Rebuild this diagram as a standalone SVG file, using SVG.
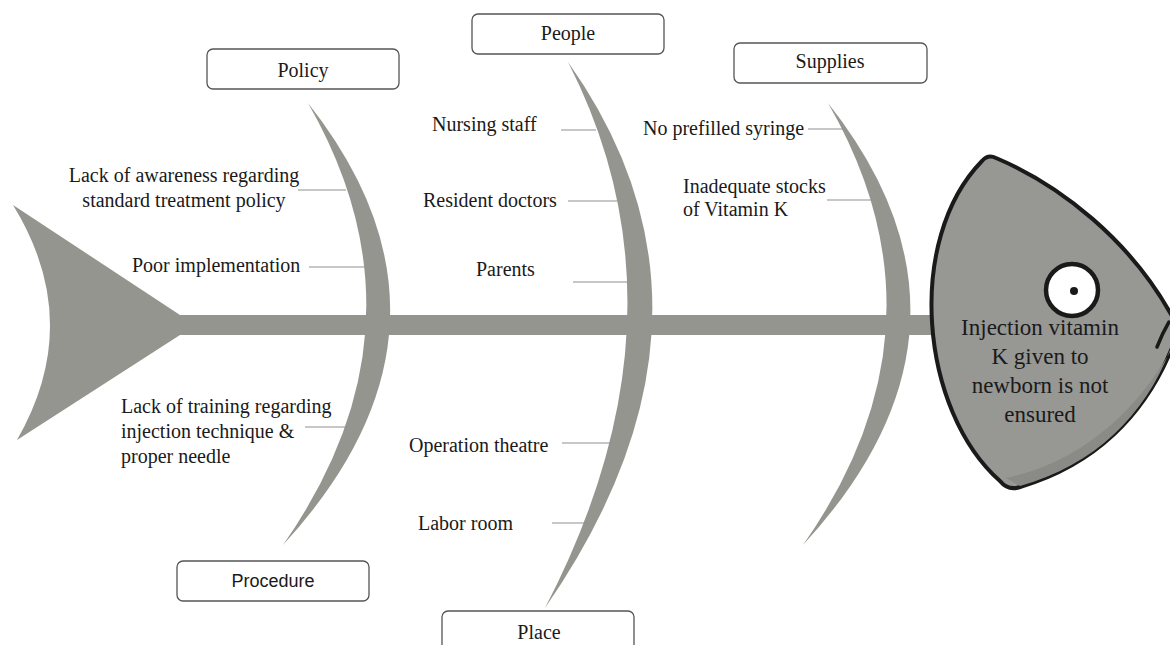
<svg xmlns="http://www.w3.org/2000/svg" width="1170" height="645" viewBox="0 0 1170 645">
<style>
.bone{fill:#959590;stroke:none}
.box{fill:#ffffff;stroke:#555555;stroke-width:1.3}
.t{font-family:"Liberation Serif","Times New Roman",serif;font-size:20px;fill:#1a1a1a}
.ts{font-family:"Liberation Sans",Arial,sans-serif;font-size:18px;fill:#1a1a1a}
.ht{font-family:"Liberation Serif","Times New Roman",serif;font-size:23px;fill:#1a1a1a}
.c{stroke:#8f8f8f;stroke-width:1.2;fill:none}
</style>
<rect width="1170" height="645" fill="#ffffff"/>
<g id="skeleton">
  <path class="bone" d="M13 205 L180 315 L180 335 L17 440 Q85 322 13 205 Z"/>
  <rect class="bone" x="178" y="315" width="780" height="20"/>
  <path class="bone" d="M308 103 Q484 326 283 545 Q436 326 308 103 Z"/>
  <path class="bone" d="M568 62 Q747.5 315 545 608 Q697.5 315 568 62 Z"/>
  <path class="bone" d="M828 103 Q1004.5 326 803 545 Q956.5 326 828 103 Z"/>
</g>
<g id="head">
  <path d="M982 161 Q988 154 996 158 C1060 185 1130 240 1172 316 L1172 348 C1145 415 1095 465 1020 487 Q1008 491 1000 481 C920 410 905 240 982 161 Z" fill="#979793" stroke="#1a1a1a" stroke-width="4" stroke-linejoin="round"/>
  <path d="M1006 478 C1085 462 1140 405 1170 352 L1170 350 C1145 415 1095 465 1020 486 Z" fill="#8a8a86"/>
  <path d="M1169 322 Q1162 334 1157 347" fill="none" stroke="#1a1a1a" stroke-width="3.5" stroke-linecap="round"/>
  <circle cx="1072" cy="290" r="26" fill="#ffffff" stroke="#1a1a1a" stroke-width="4.5"/>
  <circle cx="1074" cy="291" r="4" fill="#1a1a1a"/>
  <text class="ht" text-anchor="middle" x="1040" y="335">Injection vitamin</text>
  <text class="ht" text-anchor="middle" x="1040" y="364">K given to</text>
  <text class="ht" text-anchor="middle" x="1040" y="393">newborn is not</text>
  <text class="ht" text-anchor="middle" x="1040" y="422">ensured</text>
</g>
<g id="connectors">
  <line class="c" x1="298" y1="190" x2="346" y2="190"/>
  <line class="c" x1="309" y1="267" x2="366" y2="267"/>
  <line class="c" x1="305" y1="427" x2="348" y2="427"/>
  <line class="c" x1="561" y1="130" x2="596" y2="130"/>
  <line class="c" x1="568" y1="201" x2="617" y2="201"/>
  <line class="c" x1="573" y1="282" x2="627" y2="282"/>
  <line class="c" x1="562" y1="443" x2="612" y2="443"/>
  <line class="c" x1="552" y1="523" x2="588" y2="523"/>
  <line class="c" x1="808" y1="129" x2="843" y2="129"/>
  <line class="c" x1="827" y1="200" x2="871" y2="200"/>
</g>
<g id="policy">
  <rect class="box" x="207" y="49" width="192" height="40" rx="6"/>
  <text class="t" text-anchor="middle" x="303" y="77">Policy</text>
</g>
<g id="people">
  <rect class="box" x="472" y="14" width="192" height="40" rx="6"/>
  <text class="t" text-anchor="middle" x="568" y="40">People</text>
</g>
<g id="supplies">
  <rect class="box" x="734" y="43" width="193" height="40" rx="6"/>
  <text class="t" text-anchor="middle" x="830" y="68">Supplies</text>
</g>
<g id="procedure">
  <rect class="box" x="177" y="561" width="192" height="40" rx="6"/>
  <text class="ts" text-anchor="middle" x="273" y="587">Procedure</text>
</g>
<g id="place">
  <rect class="box" x="442" y="611" width="192" height="45" rx="6"/>
  <text class="t" text-anchor="middle" x="539" y="639">Place</text>
</g>
<g id="causes">
  <text class="t" text-anchor="middle" x="184" y="182">Lack of awareness regarding</text>
  <text class="t" text-anchor="middle" x="184" y="207">standard treatment policy</text>
  <text class="t" x="132" y="272">Poor implementation</text>
  <text class="t" x="121" y="413">Lack of training regarding</text>
  <text class="t" x="121" y="438">injection technique &amp;</text>
  <text class="t" x="121" y="463">proper needle</text>
  <text class="t" x="432" y="131">Nursing staff</text>
  <text class="t" x="423" y="207">Resident doctors</text>
  <text class="t" x="476" y="276">Parents</text>
  <text class="t" x="409" y="452">Operation theatre</text>
  <text class="t" x="418" y="530">Labor room</text>
  <text class="t" x="643" y="135">No prefilled syringe</text>
  <text class="t" x="683" y="193">Inadequate stocks</text>
  <text class="t" x="683" y="216">of Vitamin K</text>
</g>
</svg>
